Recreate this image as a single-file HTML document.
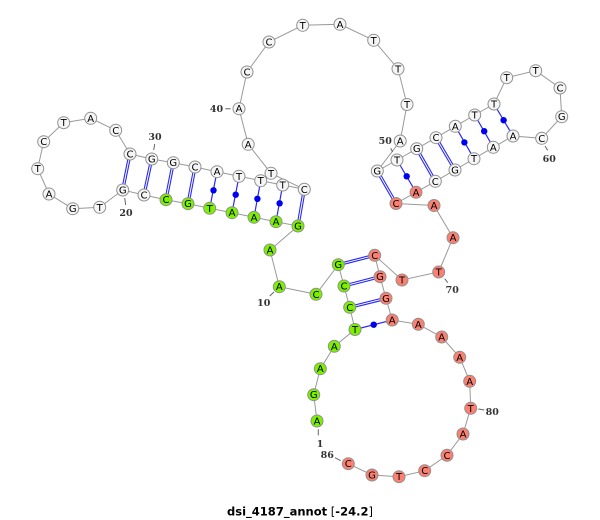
<!DOCTYPE html>
<html><head><meta charset="utf-8"><style>
html,body{margin:0;padding:0;background:#fff}
svg{display:block}
.n circle{stroke:#909090;stroke-width:1;r:6px}
.w circle{fill:#f6f6f6}.g circle{fill:#7df000}.r circle{fill:#fa8072}
.n text{font:10px "DejaVu Sans",sans-serif;text-anchor:middle;fill:#000}
.l{font:bold 9.5px "DejaVu Serif",serif;fill:#333;text-anchor:middle}
.t{stroke:#666;stroke-width:1;fill:none}
.bo{stroke:#2a2af0;stroke-width:3.2;fill:none}.bi{stroke:#fff;stroke-width:1;fill:none}
.s{stroke:#2a2af0;stroke-width:1.2}
</style></head><body>
<svg width="600" height="520" viewBox="0 0 600 520" xmlns="http://www.w3.org/2000/svg">
<polyline fill="none" stroke="#999" stroke-width="1" points="317,421 313.7,394.7 320.3,368.7 334.3,346.3 355,329.5 349.7,307.3 344,286 338.3,264.7 316,294.3 279.3,286.7 270,250 298,226 276,221.7 254,217.3 232,212.7 209.7,208.3 188,203.7 166,199.7 144,195 122.7,190 99.7,207.3 72.7,208.7 49,194 37.7,168.7 43.7,141.7 63.7,122.7 90.7,118.3 115.7,130.3 130,154 151.7,159 173.3,162.7 195,167 217,171.7 239,176.3 260.7,180.7 282.7,185 304.3,189.3 271,173.3 248.2,144.3 239,108.7 247,72 269,42 302.7,25.3 340,24.3 373.7,40.3 398,68.8 407,104.5 400.2,141 377.3,171 397,160 416.7,148.7 436,137.7 455.3,126.3 474.7,115 494,104 506.7,77.7 535.7,70.7 560,88 561.7,116.7 541.7,138.3 513,136 493.3,147.3 474,158.7 455,170 435.3,181.3 416,192.3 396,203.5 434,205.5 453,237.7 438.7,272 402,280 374.7,255.3 380,276.7 386,298.3 392.2,320 418.3,324.3 441.7,337 459.7,357.3 469.7,381.3 470.7,408.3 463,434 447,455.3 424.7,470.7 399,476.7 372,475 348.3,463.7"/>
<g class="bo"><path d="M130,154L122.7,190M151.7,159L144,195M173.3,162.7L166,199.7M195,167L188,203.7M304.3,189.3L298,226M377.3,171L396,203.5M416.7,148.7L435.3,181.3M436,137.7L455,170M338.3,264.7L374.7,255.3M344,286L380,276.7M349.7,307.3L386,298.3"/></g>
<g class="bi"><path d="M130,154L122.7,190M151.7,159L144,195M173.3,162.7L166,199.7M195,167L188,203.7M304.3,189.3L298,226M377.3,171L396,203.5M416.7,148.7L435.3,181.3M436,137.7L455,170M338.3,264.7L374.7,255.3M344,286L380,276.7M349.7,307.3L386,298.3"/></g>
<path class="s" d="M217,171.7L209.7,208.3M239,176.3L232,212.7M260.7,180.7L254,217.3M282.7,185L276,221.7M397,160L416,192.3M455.3,126.3L474,158.7M474.7,115L493.3,147.3M494,104L513,136M355,329.5L392.2,320"/>
<g fill="#0000f0"><circle cx="213.5" cy="190.3" r="3.2"/><circle cx="235.7" cy="194.7" r="3.2"/><circle cx="257.4" cy="198.8" r="3.2"/><circle cx="279.6" cy="203.3" r="3.2"/><circle cx="406.7" cy="176.3" r="3.2"/><circle cx="464.4" cy="142.4" r="3.2"/><circle cx="484.2" cy="131.2" r="3.2"/><circle cx="503.6" cy="120.2" r="3.2"/><circle cx="373.7" cy="324.7" r="3.2"/></g>
<path class="t" d="M124.7,198L125.7,205M154.7,144L153.7,150M225.3,108.7H230.5M390.7,148.3L392.7,152M545,146L547.7,150.3M444.7,278.7L447.7,282.7M274,292L269.7,296M478.3,409L484.3,410M318.3,429.3V435.3M335,457.7L340.7,460.7"/>
<g class="n g">
<circle cx="317" cy="421"/><text x="317" y="424.5">A</text>
<circle cx="313.7" cy="394.7"/><text x="313.7" y="398.2">G</text>
<circle cx="320.3" cy="368.7"/><text x="320.3" y="372.2">A</text>
<circle cx="334.3" cy="346.3"/><text x="334.3" y="349.8">A</text>
<circle cx="355" cy="329.5"/><text x="355" y="333">T</text>
<circle cx="349.7" cy="307.3"/><text x="349.7" y="310.8">C</text>
<circle cx="344" cy="286"/><text x="344" y="289.5">C</text>
<circle cx="338.3" cy="264.7"/><text x="338.3" y="268.2">G</text>
<circle cx="316" cy="294.3"/><text x="316" y="297.8">C</text>
<circle cx="279.3" cy="286.7"/><text x="279.3" y="290.2">A</text>
<circle cx="270" cy="250"/><text x="270" y="253.5">A</text>
<circle cx="298" cy="226"/><text x="298" y="229.5">G</text>
<circle cx="276" cy="221.7"/><text x="276" y="225.2">A</text>
<circle cx="254" cy="217.3"/><text x="254" y="220.8">A</text>
<circle cx="232" cy="212.7"/><text x="232" y="216.2">A</text>
<circle cx="209.7" cy="208.3"/><text x="209.7" y="211.8">T</text>
<circle cx="188" cy="203.7"/><text x="188" y="207.2">G</text>
<circle cx="166" cy="199.7"/><text x="166" y="203.2">C</text>
</g>
<g class="n w">
<circle cx="144" cy="195"/><text x="144" y="198.5">C</text>
<circle cx="122.7" cy="190"/><text x="122.7" y="193.5">G</text>
<circle cx="99.7" cy="207.3"/><text x="99.7" y="210.8">T</text>
<circle cx="72.7" cy="208.7"/><text x="72.7" y="212.2">G</text>
<circle cx="49" cy="194"/><text x="49" y="197.5">A</text>
<circle cx="37.7" cy="168.7"/><text x="37.7" y="172.2">T</text>
<circle cx="43.7" cy="141.7"/><text x="43.7" y="145.2">C</text>
<circle cx="63.7" cy="122.7"/><text x="63.7" y="126.2">T</text>
<circle cx="90.7" cy="118.3"/><text x="90.7" y="121.8">A</text>
<circle cx="115.7" cy="130.3"/><text x="115.7" y="133.8">C</text>
<circle cx="130" cy="154"/><text x="130" y="157.5">C</text>
<circle cx="151.7" cy="159"/><text x="151.7" y="162.5">G</text>
<circle cx="173.3" cy="162.7"/><text x="173.3" y="166.2">G</text>
<circle cx="195" cy="167"/><text x="195" y="170.5">C</text>
<circle cx="217" cy="171.7"/><text x="217" y="175.2">A</text>
<circle cx="239" cy="176.3"/><text x="239" y="179.8">T</text>
<circle cx="260.7" cy="180.7"/><text x="260.7" y="184.2">T</text>
<circle cx="282.7" cy="185"/><text x="282.7" y="188.5">T</text>
<circle cx="304.3" cy="189.3"/><text x="304.3" y="192.8">C</text>
<circle cx="271" cy="173.3"/><text x="271" y="176.8">T</text>
<circle cx="248.2" cy="144.3"/><text x="248.2" y="147.8">A</text>
<circle cx="239" cy="108.7"/><text x="239" y="112.2">A</text>
<circle cx="247" cy="72"/><text x="247" y="75.5">C</text>
<circle cx="269" cy="42"/><text x="269" y="45.5">C</text>
<circle cx="302.7" cy="25.3"/><text x="302.7" y="28.8">T</text>
<circle cx="340" cy="24.3"/><text x="340" y="27.8">A</text>
<circle cx="373.7" cy="40.3"/><text x="373.7" y="43.8">T</text>
<circle cx="398" cy="68.8"/><text x="398" y="72.3">T</text>
<circle cx="407" cy="104.5"/><text x="407" y="108">T</text>
<circle cx="400.2" cy="141"/><text x="400.2" y="144.5">A</text>
<circle cx="377.3" cy="171"/><text x="377.3" y="174.5">G</text>
<circle cx="397" cy="160"/><text x="397" y="163.5">T</text>
<circle cx="416.7" cy="148.7"/><text x="416.7" y="152.2">G</text>
<circle cx="436" cy="137.7"/><text x="436" y="141.2">C</text>
<circle cx="455.3" cy="126.3"/><text x="455.3" y="129.8">A</text>
<circle cx="474.7" cy="115"/><text x="474.7" y="118.5">T</text>
<circle cx="494" cy="104"/><text x="494" y="107.5">T</text>
<circle cx="506.7" cy="77.7"/><text x="506.7" y="81.2">T</text>
<circle cx="535.7" cy="70.7"/><text x="535.7" y="74.2">T</text>
<circle cx="560" cy="88"/><text x="560" y="91.5">C</text>
<circle cx="561.7" cy="116.7"/><text x="561.7" y="120.2">G</text>
<circle cx="541.7" cy="138.3"/><text x="541.7" y="141.8">C</text>
<circle cx="513" cy="136"/><text x="513" y="139.5">A</text>
<circle cx="493.3" cy="147.3"/><text x="493.3" y="150.8">A</text>
<circle cx="474" cy="158.7"/><text x="474" y="162.2">T</text>
<circle cx="455" cy="170"/><text x="455" y="173.5">G</text>
<circle cx="435.3" cy="181.3"/><text x="435.3" y="184.8">C</text>
</g>
<g class="n r">
<circle cx="416" cy="192.3"/><text x="416" y="195.8">A</text>
<circle cx="396" cy="203.5"/><text x="396" y="207">C</text>
<circle cx="434" cy="205.5"/><text x="434" y="209">A</text>
<circle cx="453" cy="237.7"/><text x="453" y="241.2">A</text>
<circle cx="438.7" cy="272"/><text x="438.7" y="275.5">T</text>
<circle cx="402" cy="280"/><text x="402" y="283.5">T</text>
<circle cx="374.7" cy="255.3"/><text x="374.7" y="258.8">C</text>
<circle cx="380" cy="276.7"/><text x="380" y="280.2">G</text>
<circle cx="386" cy="298.3"/><text x="386" y="301.8">G</text>
<circle cx="392.2" cy="320"/><text x="392.2" y="323.5">A</text>
<circle cx="418.3" cy="324.3"/><text x="418.3" y="327.8">A</text>
<circle cx="441.7" cy="337"/><text x="441.7" y="340.5">A</text>
<circle cx="459.7" cy="357.3"/><text x="459.7" y="360.8">A</text>
<circle cx="469.7" cy="381.3"/><text x="469.7" y="384.8">A</text>
<circle cx="470.7" cy="408.3"/><text x="470.7" y="411.8">T</text>
<circle cx="463" cy="434"/><text x="463" y="437.5">A</text>
<circle cx="447" cy="455.3"/><text x="447" y="458.8">C</text>
<circle cx="424.7" cy="470.7"/><text x="424.7" y="474.2">C</text>
<circle cx="399" cy="476.7"/><text x="399" y="480.2">T</text>
<circle cx="372" cy="475"/><text x="372" y="478.5">G</text>
<circle cx="348.3" cy="463.7"/><text x="348.3" y="467.2">C</text>
</g>
<g class="l">
<text x="155" y="140">30</text>
<text x="126" y="216">20</text>
<text x="216.5" y="112">40</text>
<text x="385.3" y="144">50</text>
<text x="549.3" y="162">60</text>
<text x="452.3" y="293">70</text>
<text x="263.7" y="306">10</text>
<text x="492.3" y="415">80</text>
<text x="320" y="447">1</text>
<text x="327.3" y="458">86</text>
</g>
<text x="300" y="515.5" text-anchor="middle" style="font:11.5px 'DejaVu Sans',sans-serif;fill:#000" textLength="146" lengthAdjust="spacingAndGlyphs"><tspan font-weight="bold">dsi_4187_annot</tspan> [<tspan font-weight="bold">-24.2</tspan>]</text>
</svg>
</body></html>
